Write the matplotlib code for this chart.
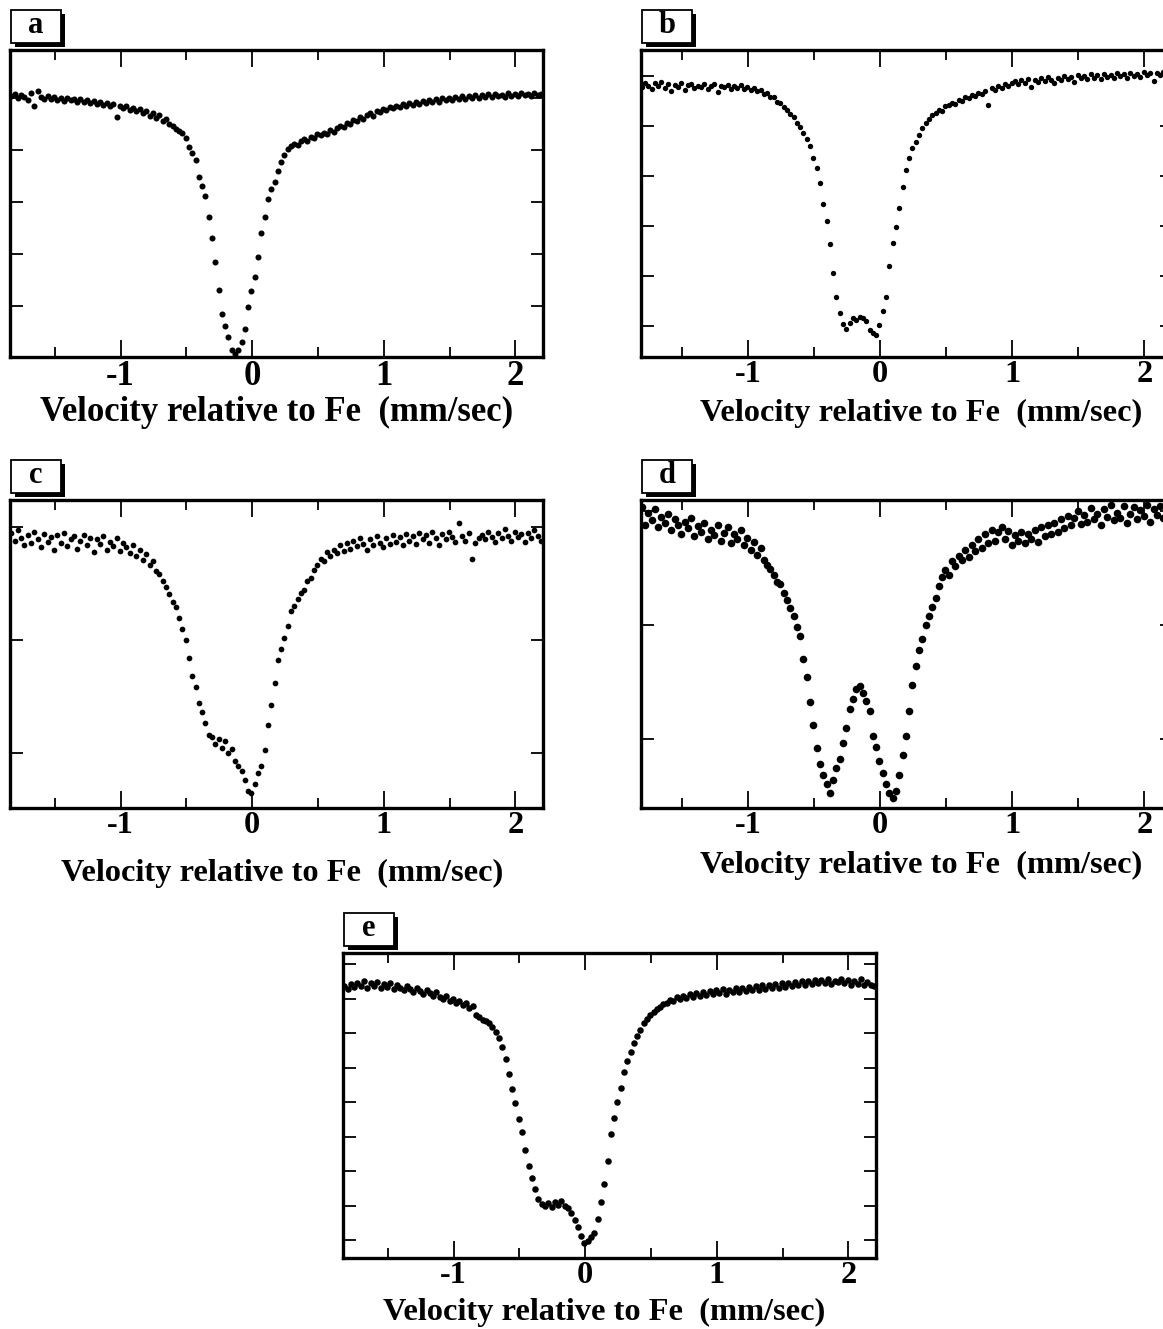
import numpy as np
import matplotlib.pyplot as plt
from matplotlib.patches import Rectangle
from matplotlib.ticker import MultipleLocator

plt.rcParams['font.family'] = ['Liberation Serif', 'DejaVu Serif']
plt.rcParams['font.weight'] = 'bold'
plt.rcParams['axes.unicode_minus'] = False

# velocity channels (mm/sec), common to the five spectra
velocity = np.linspace(-1.83, 2.195, 162)

# relative transmission (%)
trans_a = [
    100.04, 100.08, 99.99, 100.05, 100.02, 99.95, 100.09, 99.84, 100.14, 100.01,
    99.97, 100.03, 99.98, 100.02, 99.96, 99.99, 99.94, 100.00, 99.95, 99.98,
    99.92, 99.97, 99.93, 99.96, 99.90, 99.94, 99.89, 99.93, 99.87, 99.90,
    99.84, 99.88, 99.64, 99.85, 99.80, 99.84, 99.77, 99.81, 99.74, 99.79,
    99.70, 99.75, 99.66, 99.71, 99.62, 99.67, 99.56, 99.60, 99.50, 99.46,
    99.40, 99.36, 99.33, 99.22, 99.06, 98.94, 98.80, 98.48, 98.30, 98.12,
    97.72, 97.30, 96.85, 96.30, 95.84, 95.62, 95.40, 95.16, 95.08, 95.15,
    95.30, 95.55, 95.98, 96.28, 96.56, 96.95, 97.40, 97.72, 98.05, 98.25,
    98.38, 98.60, 98.76, 98.90, 99.02, 99.07, 99.12, 99.10, 99.17, 99.20,
    99.18, 99.25, 99.22, 99.30, 99.28, 99.33, 99.30, 99.38, 99.35, 99.42,
    99.46, 99.44, 99.52, 99.49, 99.58, 99.55, 99.63, 99.60, 99.68, 99.70,
    99.66, 99.74, 99.72, 99.79, 99.76, 99.82, 99.80, 99.85, 99.82, 99.88,
    99.85, 99.90, 99.87, 99.92, 99.89, 99.94, 99.91, 99.96, 99.92, 99.97,
    99.93, 99.99, 99.95, 100.00, 99.96, 100.02, 99.97, 100.03, 99.98, 100.04,
    99.99, 100.05, 100.00, 100.06, 100.01, 100.07, 100.02, 100.08, 100.03, 100.06,
    100.02, 100.09, 100.04, 100.07, 100.03, 100.10, 100.05, 100.08, 100.04, 100.09,
    100.06, 100.08,
]

trans_b = [
    99.84, 99.78, 99.86, 99.80, 99.74, 99.85, 99.79, 99.88, 99.76, 99.83,
    99.70, 99.82, 99.77, 99.86, 99.72, 99.81, 99.84, 99.75, 99.80, 99.78,
    99.83, 99.74, 99.79, 99.84, 99.68, 99.80, 99.77, 99.82, 99.74, 99.79,
    99.76, 99.81, 99.73, 99.78, 99.71, 99.76, 99.70, 99.72, 99.64, 99.66,
    99.57, 99.58, 99.48, 99.45, 99.38, 99.32, 99.24, 99.17, 99.06, 98.97,
    98.86, 98.74, 98.60, 98.36, 98.16, 97.86, 97.44, 97.10, 96.64, 96.05,
    95.58, 95.26, 95.04, 94.94, 95.06, 95.16, 95.12, 95.18, 95.16, 95.10,
    94.92, 94.86, 94.82, 95.02, 95.30, 95.58, 96.20, 96.66, 96.98, 97.36,
    97.78, 98.12, 98.35, 98.55, 98.68, 98.82, 98.95, 99.06, 99.14, 99.22,
    99.26, 99.32, 99.30, 99.40, 99.42, 99.46, 99.44, 99.52, 99.50, 99.58,
    99.55, 99.62, 99.60, 99.66, 99.63, 99.70, 99.42, 99.75, 99.72, 99.80,
    99.76, 99.84, 99.80, 99.86, 99.90, 99.84, 99.92, 99.86, 99.94, 99.78,
    99.92, 99.88, 99.95, 99.90, 99.97, 99.91, 99.85, 99.96, 99.92, 100.00,
    99.93, 99.98, 99.88, 100.02, 99.95, 99.99, 99.93, 100.04, 99.96, 100.01,
    99.94, 100.04, 99.98, 100.02, 99.95, 100.06, 99.99, 100.03, 99.96, 100.05,
    100.00, 100.04, 99.97, 100.07, 100.01, 100.05, 99.90, 100.06, 100.02, 100.08,
    100.03, 100.06,
]

trans_c = [
    99.95, 99.88, 99.97, 99.90, 99.84, 99.93, 99.86, 99.96, 99.89, 99.82,
    99.94, 99.87, 99.91, 99.80, 99.93, 99.86, 99.95, 99.83, 99.89, 99.92,
    99.81, 99.88, 99.93, 99.84, 99.90, 99.78, 99.89, 99.85, 99.92, 99.80,
    99.87, 99.83, 99.90, 99.79, 99.86, 99.82, 99.77, 99.84, 99.74, 99.80,
    99.71, 99.76, 99.66, 99.70, 99.61, 99.58, 99.52, 99.47, 99.41, 99.34,
    99.29, 99.19, 99.10, 99.00, 98.84, 98.68, 98.58, 98.44, 98.36, 98.26,
    98.16, 98.14, 98.08, 98.12, 98.04, 98.10, 98.00, 98.03, 97.93, 97.88,
    97.84, 97.76, 97.66, 97.64, 97.72, 97.82, 97.88, 98.02, 98.25, 98.42,
    98.62, 98.82, 98.92, 99.02, 99.12, 99.26, 99.30, 99.36, 99.42, 99.44,
    99.52, 99.55, 99.62, 99.66, 99.72, 99.70, 99.78, 99.74, 99.80, 99.77,
    99.84, 99.79, 99.86, 99.81, 99.88, 99.83, 99.90, 99.85, 99.80, 99.89,
    99.84, 99.92, 99.86, 99.82, 99.90, 99.85, 99.93, 99.87, 99.91, 99.84,
    99.94, 99.88, 99.92, 99.85, 99.95, 99.89, 99.93, 99.86, 99.96, 99.90,
    99.84, 99.94, 99.89, 99.96, 99.91, 99.87, 100.04, 99.92, 99.88, 99.95,
    99.72, 99.86, 99.90, 99.93, 99.89, 99.96, 99.91, 99.87, 99.95, 99.90,
    99.98, 99.92, 99.88, 99.96, 99.91, 99.94, 99.87, 99.95, 99.90, 99.97,
    99.92, 99.88,
]

trans_d = [
    99.96, 100.04, 99.88, 99.99, 99.92, 100.02, 99.86, 99.95, 99.90, 99.98,
    99.84, 99.93, 99.88, 99.80, 99.91, 99.85, 99.94, 99.78, 99.87, 99.82,
    99.90, 99.76, 99.84, 99.79, 99.88, 99.74, 99.81, 99.86, 99.72, 99.80,
    99.76, 99.84, 99.70, 99.77, 99.66, 99.73, 99.62, 99.68, 99.57, 99.53,
    99.49, 99.44, 99.38, 99.36, 99.28, 99.22, 99.15, 99.08, 98.98, 98.90,
    98.70, 98.54, 98.32, 98.12, 97.92, 97.78, 97.68, 97.60, 97.52, 97.64,
    97.74, 97.82, 97.96, 98.09, 98.26, 98.35, 98.44, 98.46, 98.40, 98.33,
    98.24, 98.02, 97.93, 97.80, 97.70, 97.60, 97.52, 97.48, 97.54, 97.68,
    97.86, 98.02, 98.24, 98.47, 98.64, 98.78, 98.88, 99.00, 99.08, 99.16,
    99.24, 99.34, 99.42, 99.48, 99.44, 99.56, 99.52, 99.61, 99.57, 99.66,
    99.60, 99.70, 99.65, 99.76, 99.68, 99.80, 99.72, 99.84, 99.74, 99.82,
    99.86, 99.76, 99.83, 99.70, 99.79, 99.74, 99.82, 99.72, 99.80, 99.76,
    99.84, 99.73, 99.86, 99.78, 99.88, 99.80, 99.90, 99.82, 99.93, 99.85,
    99.96, 99.88, 99.94, 100.00, 99.89, 99.97, 99.91, 100.03, 99.93, 99.98,
    99.88, 100.02, 99.95, 100.06, 99.92, 99.99, 99.94, 100.05, 99.90, 99.98,
    100.04, 99.93, 100.01, 99.96, 100.06, 99.91, 100.02, 99.97, 100.05, 99.94,
    100.03, 100.07,
]

trans_e = [
    99.36, 99.28, 99.42, 99.33, 99.46, 99.37, 99.50, 99.31, 99.44, 99.36,
    99.47, 99.30, 99.41, 99.34, 99.45, 99.29, 99.40, 99.32, 99.24, 99.36,
    99.27, 99.20, 99.31, 99.22, 99.14, 99.25, 99.16, 99.08, 99.19, 99.05,
    98.98, 99.06, 98.93, 98.99, 98.86, 98.92, 98.80, 98.86, 98.74, 98.79,
    98.52, 98.46, 98.38, 98.34, 98.28, 98.18, 98.04, 97.86, 97.60, 97.26,
    96.82, 96.38, 95.96, 95.52, 95.14, 94.62, 94.16, 93.80, 93.48, 93.20,
    93.04, 92.98, 93.06, 92.96, 93.10, 93.02, 93.12, 93.00, 92.92, 92.78,
    92.58, 92.38, 92.12, 91.92, 91.98, 92.08, 92.20, 92.62, 93.10, 93.62,
    94.30, 95.06, 95.55, 96.00, 96.42, 96.86, 97.18, 97.46, 97.70, 97.92,
    98.10, 98.30, 98.40, 98.52, 98.62, 98.70, 98.76, 98.84, 98.88, 98.96,
    98.92, 99.04, 98.98, 99.08, 99.02, 99.12, 99.05, 99.16, 99.08, 99.20,
    99.10, 99.22, 99.13, 99.25, 99.16, 99.27, 99.14, 99.26, 99.18, 99.30,
    99.20, 99.32, 99.22, 99.34, 99.24, 99.36, 99.26, 99.40, 99.28, 99.38,
    99.30, 99.42, 99.32, 99.44, 99.34, 99.46, 99.36, 99.48, 99.38, 99.50,
    99.40, 99.52, 99.42, 99.55, 99.44, 99.53, 99.45, 99.56, 99.43, 99.52,
    99.47, 99.58, 99.44, 99.54, 99.40, 99.50, 99.43, 99.56, 99.38, 99.48,
    99.40, 99.35,
]

letters = ['a', 'b', 'c', 'd', 'e']
spectra = [trans_a, trans_b, trans_c, trans_d, trans_e]
y_ranges = [(95.02, 100.92), (94.38, 100.52), (97.51, 100.24), (97.39, 100.10), (91.48, 100.32)]
y_ticks = [[96, 97, 98, 99, 100], [95, 96, 97, 98, 99, 100], [98, 99, 100],
           [98, 99, 100], [92, 93, 94, 95, 96, 97, 98, 99, 100]]

W, H = 1163, 1329
fig = plt.figure(figsize=(W / 100, H / 100), dpi=100)


def rect(left, top, right, bottom):
    return [left / W, 1 - bottom / H, (right - left) / W, (bottom - top) / H]


# layout: axes box, x range, dot size, title x position, title pad, text size
layout = {
    'a': (rect(10, 50, 543, 357), (-1.84, 2.21), 19, 0.5, 2, 25),
    'b': (rect(641, 50, 1172, 357), (-1.81, 2.21), 15, 0.527, 7.5, 23.3),
    'c': (rect(10, 500, 543, 808), (-1.84, 2.21), 17, 0.51, 14, 23.3),
    'd': (rect(641, 500, 1172, 808), (-1.81, 2.21), 30, 0.527, 8, 23.3),
    'e': (rect(343, 953, 876, 1258), (-1.84, 2.21), 22, 0.49, 6, 23.3),
}


def letter_box(ax, letter):
    x0, y0, w, h = ax.get_position().bounds
    bw, bh = 50 / W, 33 / H
    bx, by = x0 + 1 / W, y0 + h + 7 / H
    fig.patches.append(Rectangle((bx + 4 / W, by - 4 / H), bw, bh, transform=fig.transFigure,
                                 facecolor='black', edgecolor='none'))
    fig.patches.append(Rectangle((bx, by), bw, bh, transform=fig.transFigure,
                                 facecolor='white', edgecolor='black', linewidth=1.3))
    fig.text(bx + bw / 2, by + bh / 2 + 1 / H, letter, ha='center', va='center',
             fontsize=22, fontweight='bold')


for letter, y, ylim, yt in zip(letters, spectra, y_ranges, y_ticks):
    box, xlim, dot, lx, lpad, fs = layout[letter]
    ax = fig.add_axes(box)
    ax.scatter(velocity, y, s=dot, color='black', linewidths=0)
    ax.set_xlim(xlim)
    ax.set_ylim(ylim)
    ax.xaxis.set_major_locator(MultipleLocator(1))
    ax.xaxis.set_minor_locator(MultipleLocator(0.5))
    ax.set_yticks(yt)
    ax.tick_params(axis='both', which='both', direction='in', top=True, right=True,
                   width=1.3, labelleft=False)
    ax.tick_params(axis='x', which='major', length=12, labelsize=fs, pad=2)
    ax.tick_params(axis='x', which='minor', length=7)
    ax.tick_params(axis='y', length=9)
    for s in ax.spines.values():
        s.set_linewidth(2.4)
    ax.set_xlabel('Velocity relative to Fe  (mm/sec)', fontsize=fs, fontweight='bold',
                  labelpad=lpad, x=lx)
    letter_box(ax, letter)

fig.savefig('out.png', dpi=100)
